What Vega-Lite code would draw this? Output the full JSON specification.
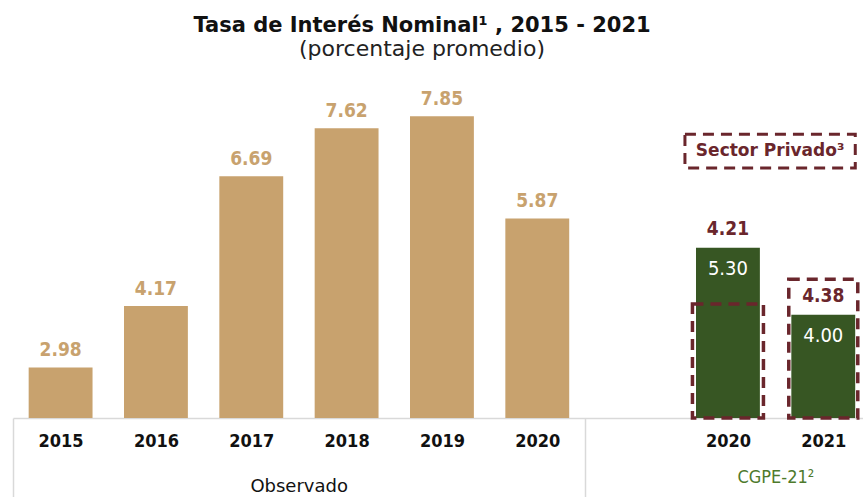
{
  "$schema": "https://vega.github.io/schema/vega-lite/v6.json",
  "autosize": "none",
  "width": 850,
  "height": 361,
  "padding": {"left": 13, "top": 57, "right": 0, "bottom": 79},
  "background": "white",
  "config": {"view": {"stroke": null}},
  "title": {
    "text": "Tasa de Interés Nominal¹ , 2015 - 2021",
    "subtitle": "(porcentaje promedio)",
    "anchor": "middle",
    "dx": -16,
    "offset": -3,
    "font": "DejaVu Sans",
    "fontSize": 21,
    "fontWeight": "bold",
    "color": "#111111",
    "subtitleFont": "DejaVu Sans",
    "subtitleFontSize": 22,
    "subtitleColor": "#222222",
    "subtitlePadding": 3
  },
  "datasets": {
    "tasas": [
      {"slot": "2015", "grupo": "Observado", "valor": 2.98},
      {"slot": "2016", "grupo": "Observado", "valor": 4.17},
      {"slot": "2017", "grupo": "Observado", "valor": 6.69},
      {"slot": "2018", "grupo": "Observado", "valor": 7.62},
      {"slot": "2019", "grupo": "Observado", "valor": 7.85},
      {"slot": "2020-obs", "grupo": "Observado", "valor": 5.87},
      {"slot": "2020-cgpe", "grupo": "CGPE-21", "valor": 5.30, "privado": 4.21},
      {"slot": "2021-cgpe", "grupo": "CGPE-21", "valor": 4.00, "privado": 4.38}
    ],
    "nota": [
      {"slot": "2020-cgpe", "slot2": "2021-cgpe", "texto": "Sector Privado³", "alto": 7.5, "bajo": 6.85, "medio": 7.17}
    ],
    "grupos": [
      {"slot": "2017", "texto": "Observado"},
      {"slot": "2020-cgpe", "texto": "CGPE-21²"}
    ]
  },
  "data": {"name": "tasas"},
  "encoding": {
    "x": {
      "field": "slot",
      "type": "nominal",
      "sort": null,
      "scale": {
        "domain": ["2015", "2016", "2017", "2018", "2019", "2020-obs", "gap", "2020-cgpe", "2021-cgpe"],
        "paddingInner": 0.33,
        "paddingOuter": 0.123,
        "align": 0.668
      },
      "axis": {
        "title": null,
        "orient": "bottom",
        "labelAngle": 0,
        "labelExpr": "datum.value == 'gap' ? '' : slice(datum.value, 0, 4)",
        "labelFont": "Liberation Sans Narrow, DejaVu Sans Condensed",
        "labelFontSize": 18,
        "labelFontWeight": "bold",
        "labelColor": "#111111",
        "labelPadding": -65,
        "domainColor": "#D9D9D9",
        "domainWidth": 1.5,
        "ticks": true,
        "tickSize": 79,
        "tickWidth": 1.5,
        "tickOffset": -47.7,
        "labelOffset": 47.7,
        "tickColor": {"condition": {"test": "datum.value == '2015' || datum.value == 'gap'", "value": "#D9D9D9"}, "value": "transparent"},
        "grid": false
      }
    }
  },
  "layer": [
    {
      "mark": {"type": "bar"},
      "encoding": {
        "y": {"field": "valor", "type": "quantitative", "scale": {"domain": [2, 9], "zero": false}, "axis": null},
        "y2": {"datum": 2},
        "color": {"field": "grupo", "type": "nominal", "scale": {"domain": ["Observado", "CGPE-21"], "range": ["#C8A26E", "#375623"]}, "legend": null}
      }
    },
    {
      "transform": [{"filter": "datum.grupo == 'Observado'"}],
      "mark": {"type": "text", "baseline": "alphabetic", "dy": -11, "font": "DejaVu Sans Condensed", "fontSize": 19, "fontWeight": "bold", "color": "#C8A26E"},
      "encoding": {
        "y": {"field": "valor", "type": "quantitative"},
        "text": {"field": "valor", "type": "quantitative", "format": ".2f"}
      }
    },
    {
      "transform": [{"filter": "datum.grupo == 'CGPE-21'"}],
      "mark": {"type": "text", "baseline": "alphabetic", "dy": 27, "font": "DejaVu Sans Condensed", "fontSize": 20, "color": "white"},
      "encoding": {
        "y": {"field": "valor", "type": "quantitative"},
        "text": {"field": "valor", "type": "quantitative", "format": ".2f"}
      }
    },
    {
      "transform": [{"filter": "datum.slot == '2020-cgpe'"}],
      "mark": {"type": "bar", "width": 71, "fill": "transparent", "stroke": "#6A262C", "strokeWidth": 3.5, "strokeDash": [11, 7]},
      "encoding": {
        "y": {"field": "privado", "type": "quantitative"},
        "y2": {"datum": 2}
      }
    },
    {
      "transform": [{"filter": "datum.slot == '2021-cgpe'"}],
      "mark": {"type": "bar", "width": 69, "fill": "transparent", "stroke": "#6A262C", "strokeWidth": 3.5, "strokeDash": [11, 7], "yOffset": -16},
      "encoding": {
        "y": {"field": "privado", "type": "quantitative"},
        "y2": {"datum": 2}
      }
    },
    {
      "transform": [{"filter": "datum.grupo == 'CGPE-21'"}],
      "mark": {"type": "text", "baseline": "alphabetic", "dy": -13, "font": "DejaVu Sans Condensed", "fontSize": 19, "fontWeight": "bold", "color": "#6A262C"},
      "encoding": {
        "y": {"field": "valor", "type": "quantitative"},
        "text": {"field": "privado", "type": "quantitative", "format": ".2f"}
      }
    },
    {
      "data": {"name": "nota"},
      "mark": {"type": "rect", "fill": "transparent", "stroke": "#6A262C", "strokeWidth": 3, "strokeDash": [11, 7], "xOffset": -43, "x2Offset": 32},
      "encoding": {
        "x2": {"field": "slot2"},
        "y": {"field": "alto", "type": "quantitative"},
        "y2": {"field": "bajo"}
      }
    },
    {
      "data": {"name": "nota"},
      "mark": {"type": "text", "baseline": "middle", "align": "center", "font": "DejaVu Sans", "fontSize": 17, "fontWeight": "bold", "color": "#6A262C"},
      "encoding": {
        "x": {"field": "slot", "type": "nominal", "bandPosition": 1.16},
        "y": {"field": "medio", "type": "quantitative"},
        "text": {"field": "texto"}
      }
    },
    {
      "data": {"name": "grupos"},
      "transform": [{"filter": "datum.texto == 'Observado'"}],
      "mark": {"type": "text", "baseline": "middle", "align": "center", "font": "DejaVu Sans", "fontSize": 18, "color": "#111111"},
      "encoding": {
        "x": {"field": "slot", "type": "nominal", "bandPosition": 1.25},
        "y": {"value": 430},
        "text": {"field": "texto"}
      }
    },
    {
      "data": {"name": "grupos"},
      "transform": [{"filter": "datum.texto != 'Observado'"}],
      "mark": {"type": "text", "baseline": "middle", "align": "center", "font": "DejaVu Sans Condensed", "fontSize": 18, "color": "#4E7A2C"},
      "encoding": {
        "x": {"field": "slot", "type": "nominal", "bandPosition": 1.25},
        "y": {"value": 421},
        "text": {"field": "texto"}
      }
    }
  ]
}
